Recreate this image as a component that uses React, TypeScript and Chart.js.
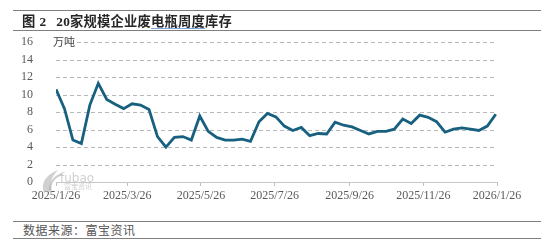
import React, { useEffect, useRef } from "react";
import { Chart, registerables } from "chart.js";

Chart.register(...registerables);

// Weekly inventory, 10k tonnes (万吨), weeks starting 2025-01-26
const startDate = "2025-01-26";
const inventory = [
  10.6, 8.4, 4.8, 4.4, 8.8, 11.3, 9.45, 8.9, 8.4, 8.95, 8.8, 8.3, 5.2, 4.0,
  5.1, 5.2, 4.8, 7.55, 5.8, 5.1, 4.8, 4.8, 4.9, 4.65, 6.9, 7.85, 7.45, 6.4,
  5.9, 6.25, 5.3, 5.55, 5.5, 6.85, 6.5, 6.3, 5.9, 5.5, 5.8, 5.8, 6.05, 7.2,
  6.7, 7.65, 7.4, 6.9, 5.7, 6.05, 6.2, 6.05, 5.9, 6.4, 7.75,
];
const xTickLabels = [
  "2025/1/26",
  "2025/3/26",
  "2025/5/26",
  "2025/7/26",
  "2025/9/26",
  "2025/11/26",
  "2026/1/26",
];
const yTicks = [0, 2, 4, 6, 8, 10, 12, 14, 16];
const unitLabel = "万吨";
const titleParts = ["图", "2", "20家规模企业废", "电瓶周度", "库存"];
const sourceText = "数据来源：富宝资讯";

const DAY = 86400000;
const dayOffset = (s: string) => {
  const [y, m, d] = s.split(/[-/]/).map(Number);
  const [y0, m0, d0] = startDate.split("-").map(Number);
  return Math.round((Date.UTC(y, m - 1, d) - Date.UTC(y0, m0 - 1, d0)) / DAY);
};
const tickDays = xTickLabels.map(dayOffset);

const CANVAS_TOP = 20;
const CANVAS_H = 192;

export default function App() {
  const ref = useRef<HTMLCanvasElement>(null);

  useEffect(() => {
    if (!ref.current) return;
    const overlay = {
      id: "overlay",
      beforeDatasetsDraw(chart: any) {
        const ctx = chart.ctx;
        const ys = chart.scales.y;
        const { left, right } = chart.chartArea;
        ctx.save();
        // dashed horizontal gridlines
        ctx.strokeStyle = "#b8b8b8";
        ctx.lineWidth = 1;
        ctx.setLineDash([4, 3]);
        for (const v of yTicks) {
          if (v === 0) continue;
          const y = Math.round(ys.getPixelForValue(v)) + 0.5;
          ctx.beginPath();
          ctx.moveTo(left, y);
          ctx.lineTo(right, y);
          ctx.stroke();
        }
        ctx.setLineDash([]);
        // watermark
        const by = chart.chartArea.bottom;
        ctx.fillStyle = "rgba(170,170,170,0.55)";
        ctx.strokeStyle = "rgba(170,170,170,0.55)";
        ctx.lineWidth = 2;
        ctx.beginPath();
        ctx.moveTo(44, by + 10);
        ctx.bezierCurveTo(40, by, 48, by - 8, 58, by - 12);
        ctx.bezierCurveTo(50, by - 4, 50, by + 2, 52, by + 10);
        ctx.closePath();
        ctx.fill();
        ctx.beginPath();
        ctx.moveTo(50, by + 8);
        ctx.bezierCurveTo(50, by, 54, by - 5, 62, by - 8);
        ctx.stroke();
        ctx.font = "12px 'DejaVu Sans'";
        ctx.textBaseline = "alphabetic";
        ctx.textAlign = "left";
        ctx.fillText("fubao", 60, by);
        ctx.font = "7px 'Noto Sans CJK SC'";
        ctx.fillText("富宝资讯", 64, by + 7);
        ctx.restore();
      },
      afterDraw(chart: any) {
        const ctx = chart.ctx;
        const y = chart.scales.y.getPixelForValue(16);
        ctx.save();
        ctx.font = "11px 'Noto Sans CJK SC'";
        const w = ctx.measureText(unitLabel).width;
        ctx.fillStyle = "#ffffff";
        ctx.fillRect(52, y - 7, w + 3, 14);
        ctx.fillStyle = "#404040";
        ctx.textBaseline = "middle";
        ctx.textAlign = "left";
        ctx.fillText(unitLabel, 53, y);
        ctx.restore();
      },
    };

    const chart = new Chart(ref.current, {
      type: "line",
      data: {
        datasets: [
          {
            data: inventory.map((v, i) => ({ x: i * 7, y: v })),
            borderColor: "#17607f",
            borderWidth: 2.8,
            pointRadius: 0,
            tension: 0,
            fill: false,
          },
        ],
      },
      options: {
        animation: false,
        responsive: false,
        maintainAspectRatio: false,
        layout: { padding: { left: 0, right: 57, top: 10, bottom: 0 } },
        plugins: { legend: { display: false }, tooltip: { enabled: false } },
        scales: {
          x: {
            type: "linear",
            min: tickDays[0],
            max: tickDays[tickDays.length - 1],
            afterFit: (s: any) => {
              s.height = 30;
            },
            afterBuildTicks: (s: any) => {
              s.ticks = tickDays.map((v) => ({ value: v }));
            },
            border: { display: true, color: "#c8c8c8", width: 1 },
            grid: {
              drawOnChartArea: false,
              drawTicks: true,
              tickLength: 4,
              tickColor: "#c0c0c0",
            },
            ticks: {
              autoSkip: false,
              maxRotation: 0,
              padding: 3,
              color: "#595959",
              font: { family: "'Liberation Serif'", size: 12 },
              callback: (_v: any, i: number) => xTickLabels[i],
            },
          },
          y: {
            min: yTicks[0],
            max: yTicks[yTicks.length - 1],
            afterFit: (s: any) => {
              s.width = 56;
            },
            afterBuildTicks: (s: any) => {
              s.ticks = yTicks.map((v) => ({ value: v }));
            },
            border: { display: false },
            grid: { display: false },
            ticks: {
              autoSkip: false,
              padding: 15,
              color: "#595959",
              font: { family: "'Liberation Serif'", size: 12 },
            },
          },
        },
      },
      plugins: [overlay],
    } as any);
    return () => chart.destroy();
  }, []);

  const lineStyle: React.CSSProperties = {
    position: "absolute",
    left: 13,
    width: 528,
    height: 0,
    borderTop: "1px solid #7f7f7f",
  };

  return (
    <div
      style={{
        position: "fixed",
        left: 0,
        top: 0,
        width: 554,
        height: 248,
        background: "#ffffff",
        overflow: "hidden",
      }}
    >
      <canvas
        ref={ref}
        width={554}
        height={CANVAS_H}
        style={{ position: "absolute", left: 0, top: CANVAS_TOP, width: 554, height: CANVAS_H }}
      />
      <div style={{ ...lineStyle, top: 10 }} />
      <div
        style={{
          position: "absolute",
          left: 22,
          top: 12,
          height: 18,
          lineHeight: "18px",
          fontFamily: "'Liberation Serif', 'Noto Sans CJK SC', serif",
          fontWeight: "bold",
          fontSize: 13.3,
          color: "#262626",
          whiteSpace: "nowrap",
          letterSpacing: 0.2,
        }}
      >
        <span style={{ fontFamily: "'Noto Sans CJK SC'" }}>{titleParts[0]}</span>
        <span style={{ marginLeft: 4 }}>{titleParts[1]}</span>
        <span style={{ marginLeft: 10 }}>{titleParts[2].slice(0, 2)}</span>
        <span style={{ fontFamily: "'Noto Sans CJK SC'" }}>
          {titleParts[2].slice(2)}
          <span
            style={{
              textDecoration: "underline",
              textDecorationColor: "#7aa6e0",
              textUnderlineOffset: 2,
            }}
          >
            {titleParts[3]}
          </span>
          {titleParts[4]}
        </span>
      </div>
      <div style={{ ...lineStyle, top: 30 }} />
      <div style={{ ...lineStyle, top: 221 }} />
      <div
        style={{
          position: "absolute",
          left: 23,
          top: 221,
          height: 17,
          lineHeight: "17px",
          fontFamily: "'Noto Sans CJK SC'",
          fontSize: 12,
          color: "#555555",
          letterSpacing: 0.5,
          whiteSpace: "nowrap",
        }}
      >
        {sourceText}
      </div>
      <div style={{ ...lineStyle, top: 238 }} />
    </div>
  );
}
